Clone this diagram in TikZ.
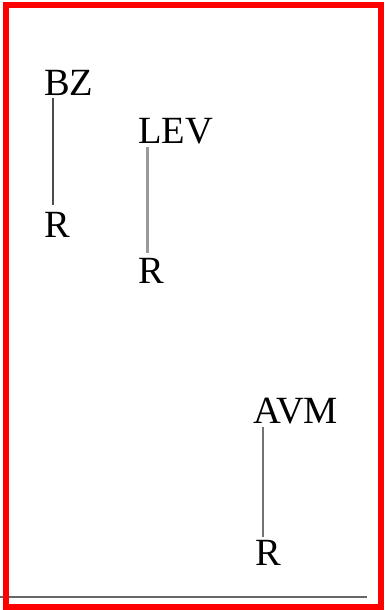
\documentclass[tikz,border=0pt]{standalone}
\usepackage{fontspec}
\setmainfont{Liberation Serif}
\begin{document}
\begin{tikzpicture}[x=1pt,y=-1pt,
  lbl/.style={inner sep=0pt,anchor=base west,font=\fontsize{38.5}{40}\selectfont},
  stem/.style={line width=2pt}]
\useasboundingbox (0,0) rectangle (385,610);
\fill[white] (0,0) rectangle (385,610);
% labels
\node[lbl] (bz) at (44,95) {BZ};
\node[lbl] (r1) at (44,237) {R};
\node[lbl] (lev) at (138,143) {LEV};
\node[lbl] (r2) at (138,283) {R};
\node[lbl] (avm) at (253,423) {AVM};
\node[lbl] (r3) at (255,565) {R};
% stems
\draw[stem,draw=black!70] ([xshift=9pt,yshift=-3pt]bz.base west) -- ([xshift=9pt,yshift=7pt]r1.north west);
\draw[stem,draw=black!40,line width=3pt] ([xshift=9pt,yshift=-4pt]lev.base west) -- ([xshift=9pt,yshift=5pt]r2.north west);
\draw[stem,draw=black!55,line width=2.5pt] ([xshift=10pt,yshift=-4pt]avm.base west) -- ([xshift=8pt,yshift=3pt]r3.north west);
% bottom rule
\coordinate (bl) at (0,597);
\coordinate (br) at (367,597);
\draw[black!60,line width=2pt] (bl) -- (br);
% red frame
\draw[red,line width=6pt] (6,5) rectangle (381,606.5);
\end{tikzpicture}
\end{document}
